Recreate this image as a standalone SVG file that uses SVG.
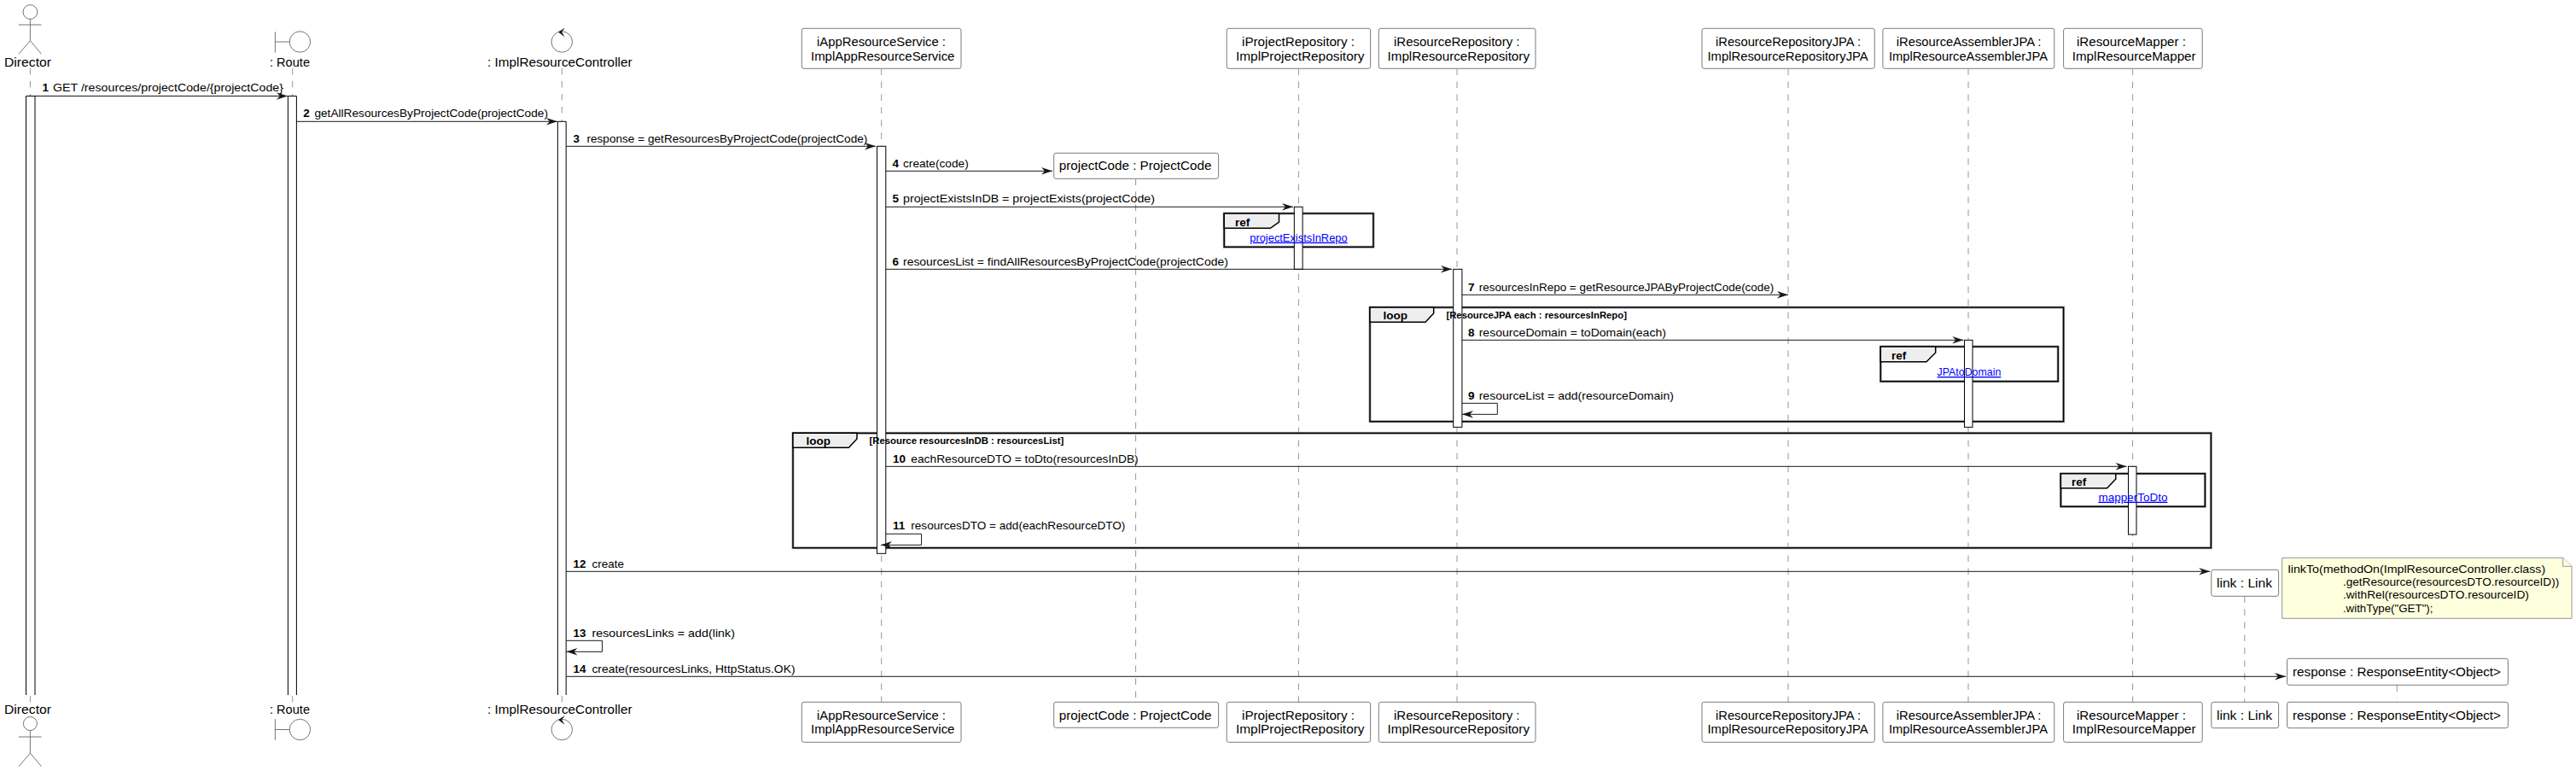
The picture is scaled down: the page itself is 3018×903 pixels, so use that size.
<svg xmlns="http://www.w3.org/2000/svg" width="3018" height="903" viewBox="0 0 3018 903">
<style>
text{font-family:"Liberation Sans",Arial,sans-serif;fill:#000}
.p{font-size:15.5px}
.m{font-size:13.5px}
.n{font-weight:bold}
.g{font-size:11.3px;font-weight:bold}
.t{font-size:13.5px;font-weight:bold}
.l{font-size:13.5px;fill:#0000ff;text-decoration:underline}
.box{fill:#fff;stroke:#7b7b7b;stroke-width:1}
.life{fill:none;stroke:#7b7b7b;stroke-width:.8;stroke-dasharray:7.5 7.5}
.act{fill:#fff;stroke:#000;stroke-width:1}
.sym{fill:none;stroke:#666;stroke-width:.9}
.msg{fill:none;stroke:#181818;stroke-width:1;marker-end:url(#a)}
.fs{fill:none;stroke:#a8a8a8;stroke-width:3}
.f{fill:none;stroke:#000;stroke-width:1.5}
.tab{fill:#eee;stroke:#000;stroke-width:1.5}
.nt{fill:#feffdd;stroke:#8a8a8a;stroke-width:.9}
</style>
<defs>
<marker id="a" markerUnits="userSpaceOnUse" markerWidth="16" markerHeight="12" refX="14" refY="6" orient="auto" overflow="visible"><path d="M14 6L1 1.8L5 6L1 10.2Z" fill="#181818"/></marker>
</defs>
<g id="lifelines">
<path class="life" d="M35.4 80V823"/>
<path class="life" d="M342.7 80V823"/>
<path class="life" d="M658.3 80V823"/>
<path class="life" d="M1032.7 80.5V822"/>
<path class="life" d="M1330.6 209.5V822"/>
<path class="life" d="M1521.4 80.5V822"/>
<path class="life" d="M1707 80.5V822"/>
<path class="life" d="M2095 80.5V822"/>
<path class="life" d="M2306 80.5V822"/>
<path class="life" d="M2498.6 80.5V822"/>
<path class="life" d="M2629.8 698.5V822"/>
<path class="life" d="M2808.3 802.5V818"/>
</g>
<g id="frames">
<g id="frame-ref-projectExists"><rect class="fs" x="1434.2" y="250" width="174.8" height="39.3"/><rect class="f" x="1434.2" y="250" width="174.8" height="39.3"/><path class="tab" d="M1434.2 250H1498.5V260L1488.3 267.3H1434.2Z"/><text class="t" x="1447" y="265">ref</text></g>
<g id="frame-loop-resourceJPA"><rect class="fs" x="1605" y="360" width="812.6" height="133.7"/><rect class="f" x="1605" y="360" width="812.6" height="133.7"/><path class="tab" d="M1605 360H1679.7V367L1670 377.3H1605Z"/><text class="t" x="1620.4" y="374">loop</text></g>
<g id="frame-ref-jpaToDomain"><rect class="fs" x="2203.3" y="406" width="207.9" height="40.7"/><rect class="f" x="2203.3" y="406" width="207.9" height="40.7"/><path class="tab" d="M2203.3 406H2267.7V413L2257 423.7H2203.3Z"/><text class="t" x="2216" y="421">ref</text></g>
<g id="frame-loop-resources"><rect class="fs" x="929" y="507.3" width="1661.4" height="134.4"/><rect class="f" x="929" y="507.3" width="1661.4" height="134.4"/><path class="tab" d="M929 507.3H1004V514L994.4 524.3H929Z"/><text class="t" x="944.4" y="521">loop</text></g>
<g id="frame-ref-mapperToDto"><rect class="fs" x="2414.4" y="554.7" width="169" height="38.6"/><rect class="f" x="2414.4" y="554.7" width="169" height="38.6"/><path class="tab" d="M2414.4 554.7H2478.8V561L2468.6 571.7H2414.4Z"/><text class="t" x="2427" y="569">ref</text></g>
</g>
<g id="activations">
<path class="act" d="M30.5 814V112.5H41V814"/>
<path class="act" d="M337.4 814V112.5H347.4V814"/>
<path class="act" d="M653.4 814V142.3H663.2V814"/>
<rect class="act" x="1027.5" y="171.3" width="10.3" height="477"/>
<rect class="act" x="1516.3" y="242.3" width="9.8" height="73"/>
<rect class="act" x="1702.7" y="315.3" width="10.2" height="185"/>
<rect class="act" x="2301.5" y="398.3" width="9.5" height="102"/>
<rect class="act" x="2493.5" y="546.3" width="9.5" height="79.7"/>
</g>
<g id="connectors">
<path class="msg" d="M41 112.5H337"/>
<path class="msg" d="M347.5 142.3H653"/>
<path class="msg" d="M663.2 171.3H1026"/>
<path class="msg" d="M1037.8 200.3H1233"/>
<path class="msg" d="M1037.8 242.3H1515"/>
<path class="msg" d="M1037.8 315.3H1701"/>
<path class="msg" d="M1712.9 345.3H2095"/>
<path class="msg" d="M1712.9 398.3H2300.3"/>
<path class="msg" d="M1712.9 472.3H1754.3V485.3H1713"/>
<path class="msg" d="M1037.8 546.3H2491.6"/>
<path class="msg" d="M1037.8 625.3H1079.6V638.3H1032"/>
<path class="msg" d="M663.2 669.3H2589.2"/>
<path class="msg" d="M663.2 750.3H705.6V763.3H663.5"/>
<path class="msg" d="M663.2 792.3H2678"/>
</g>
<g id="labels">
<text class="m" y="107"><tspan class="n" x="49.4">1 </tspan><tspan x="62" textLength="270" lengthAdjust="spacingAndGlyphs">GET /resources/projectCode/{projectCode}</tspan></text>
<text class="m" y="136.7"><tspan class="n" x="355.3">2 </tspan><tspan x="368.4" textLength="273.6" lengthAdjust="spacingAndGlyphs">getAllResourcesByProjectCode(projectCode)</tspan></text>
<text class="m" y="166.7"><tspan class="n" x="671.4">3 </tspan><tspan x="687.4" textLength="329" lengthAdjust="spacingAndGlyphs">response = getResourcesByProjectCode(projectCode)</tspan></text>
<text class="m" y="195.7"><tspan class="n" x="1045.4">4 </tspan><tspan x="1058" textLength="76.7" lengthAdjust="spacingAndGlyphs">create(code)</tspan></text>
<text class="m" y="236.7"><tspan class="n" x="1045.4">5 </tspan><tspan x="1058" textLength="295" lengthAdjust="spacingAndGlyphs">projectExistsInDB = projectExists(projectCode)</tspan></text>
<text class="m" y="310.7"><tspan class="n" x="1045.4">6 </tspan><tspan x="1058" textLength="380.8" lengthAdjust="spacingAndGlyphs">resourcesList = findAllResourcesByProjectCode(projectCode)</tspan></text>
<text class="m" y="341"><tspan class="n" x="1720">7 </tspan><tspan x="1732.7" textLength="345.6" lengthAdjust="spacingAndGlyphs">resourcesInRepo = getResourceJPAByProjectCode(code)</tspan></text>
<text class="m" y="394"><tspan class="n" x="1720">8 </tspan><tspan x="1732.7" textLength="219.3" lengthAdjust="spacingAndGlyphs">resourceDomain = toDomain(each)</tspan></text>
<text class="m" y="467.7"><tspan class="n" x="1720">9 </tspan><tspan x="1732.7" textLength="228.3" lengthAdjust="spacingAndGlyphs">resourceList = add(resourceDomain)</tspan></text>
<text class="m" y="541.7"><tspan class="n" x="1046">10 </tspan><tspan x="1067.3" textLength="266.4" lengthAdjust="spacingAndGlyphs">eachResourceDTO = toDto(resourcesInDB)</tspan></text>
<text class="m" y="620"><tspan class="n" x="1046">11 </tspan><tspan x="1067.3" textLength="251.1" lengthAdjust="spacingAndGlyphs">resourcesDTO = add(eachResourceDTO)</tspan></text>
<text class="m" y="665"><tspan class="n" x="671.4">12 </tspan><tspan x="693.4" textLength="37.6" lengthAdjust="spacingAndGlyphs">create</tspan></text>
<text class="m" y="745.7"><tspan class="n" x="671.4">13 </tspan><tspan x="693.4" textLength="167.6" lengthAdjust="spacingAndGlyphs">resourcesLinks = add(link)</tspan></text>
<text class="m" y="787.7"><tspan class="n" x="671.4">14 </tspan><tspan x="693.4" textLength="238.2" lengthAdjust="spacingAndGlyphs">create(resourcesLinks, HttpStatus.OK)</tspan></text>
<text class="g" x="1694.4" y="372.7" textLength="211.6" lengthAdjust="spacingAndGlyphs">[ResourceJPA each : resourcesInRepo]</text>
<text class="g" x="1018.4" y="520" textLength="228" lengthAdjust="spacingAndGlyphs">[Resource resourcesInDB : resourcesList]</text>
<text class="l" x="1464.3" y="282.7" textLength="114.3" lengthAdjust="spacingAndGlyphs">projectExistsInRepo</text>
<text class="l" x="2269.6" y="440" textLength="74.7" lengthAdjust="spacingAndGlyphs">JPAtoDomain</text>
<text class="l" x="2458.4" y="586.7" textLength="81" lengthAdjust="spacingAndGlyphs">mapperToDto</text>
</g>
<g id="node-director">
<g class="sym"><circle cx="35.4" cy="14" r="8.4"/><path d="M35.4 22.4V47.7M21.8 29H48.5M22 63.3L35.4 47.7L48.5 63.3"/></g>
<text class="p" x="5" y="78" textLength="55" lengthAdjust="spacingAndGlyphs">Director</text>
<text class="p" x="5" y="836" textLength="55" lengthAdjust="spacingAndGlyphs">Director</text>
<g class="sym"><circle cx="35.4" cy="847.5" r="8"/><path d="M35.4 855.5V882M21.8 863H48.5M22 897.7L35.4 882L48.5 897.7"/></g>
</g>
<g id="node-route">
<g class="sym"><circle cx="351.4" cy="49" r="12.2"/><path d="M322.4 37.3V61.7M322.4 49H339.2"/></g>
<text class="p" x="316" y="78" textLength="47" lengthAdjust="spacingAndGlyphs">: Route</text>
<text class="p" x="316" y="836" textLength="47" lengthAdjust="spacingAndGlyphs">: Route</text>
<g class="sym"><circle cx="351.4" cy="854.5" r="12.2"/><path d="M322.4 842.3V866.7M322.4 854.5H339.2"/></g>
</g>
<g id="node-controller">
<g class="sym"><circle cx="658.3" cy="49" r="12.2"/></g>
<path d="M662 32.5L654 37.5L661.6 43.3L658.2 37.5Z" fill="#181818"/>
<text class="p" x="571" y="78" textLength="169.6" lengthAdjust="spacingAndGlyphs">: ImplResourceController</text>
<text class="p" x="571" y="836" textLength="169.6" lengthAdjust="spacingAndGlyphs">: ImplResourceController</text>
<g class="sym"><circle cx="658.3" cy="854.5" r="12.2"/></g>
<path d="M662 838L654 843L661.6 848.8L658.2 843Z" fill="#181818"/>
</g>
<g id="node-appservice">
<rect class="box" x="939.3" y="33.3" width="186.7" height="47" rx="2.5"/>
<text class="p" x="957" y="54" textLength="151" lengthAdjust="spacingAndGlyphs">iAppResourceService :</text>
<text class="p" x="950" y="70.7" textLength="168.4" lengthAdjust="spacingAndGlyphs">ImplAppResourceService</text>
<rect class="box" x="939.3" y="822.3" width="186.7" height="47" rx="2.5"/>
<text class="p" x="957" y="843" textLength="151" lengthAdjust="spacingAndGlyphs">iAppResourceService :</text>
<text class="p" x="950" y="859" textLength="168.4" lengthAdjust="spacingAndGlyphs">ImplAppResourceService</text>
</g>
<g id="node-projectcode">
<rect class="box" x="1234.7" y="179.3" width="192.9" height="30" rx="2.5"/>
<text class="p" x="1240.8" y="199" textLength="178.6" lengthAdjust="spacingAndGlyphs">projectCode : ProjectCode</text>
<rect class="box" x="1234.7" y="822.3" width="192.9" height="30" rx="2.5"/>
<text class="p" x="1240.8" y="843" textLength="178.6" lengthAdjust="spacingAndGlyphs">projectCode : ProjectCode</text>
</g>
<g id="node-projectrepo">
<rect class="box" x="1437.2" y="33.3" width="168.4" height="47" rx="2.5"/>
<text class="p" x="1455" y="54" textLength="132" lengthAdjust="spacingAndGlyphs">iProjectRepository :</text>
<text class="p" x="1448" y="70.7" textLength="150.5" lengthAdjust="spacingAndGlyphs">ImplProjectRepository</text>
<rect class="box" x="1437.2" y="822.3" width="168.4" height="47" rx="2.5"/>
<text class="p" x="1455" y="843" textLength="132" lengthAdjust="spacingAndGlyphs">iProjectRepository :</text>
<text class="p" x="1448" y="859" textLength="150.5" lengthAdjust="spacingAndGlyphs">ImplProjectRepository</text>
</g>
<g id="node-resourcerepo">
<rect class="box" x="1615.3" y="33.3" width="183.7" height="47" rx="2.5"/>
<text class="p" x="1633" y="54" textLength="147.5" lengthAdjust="spacingAndGlyphs">iResourceRepository :</text>
<text class="p" x="1625.5" y="70.7" textLength="166.5" lengthAdjust="spacingAndGlyphs">ImplResourceRepository</text>
<rect class="box" x="1615.3" y="822.3" width="183.7" height="47" rx="2.5"/>
<text class="p" x="1633" y="843" textLength="147.5" lengthAdjust="spacingAndGlyphs">iResourceRepository :</text>
<text class="p" x="1625.5" y="859" textLength="166.5" lengthAdjust="spacingAndGlyphs">ImplResourceRepository</text>
</g>
<g id="node-repojpa">
<rect class="box" x="1994" y="33.3" width="202.3" height="47" rx="2.5"/>
<text class="p" x="2010" y="54" textLength="170" lengthAdjust="spacingAndGlyphs">iResourceRepositoryJPA :</text>
<text class="p" x="2000.5" y="70.7" textLength="188.2" lengthAdjust="spacingAndGlyphs">ImplResourceRepositoryJPA</text>
<rect class="box" x="1994" y="822.3" width="202.3" height="47" rx="2.5"/>
<text class="p" x="2010" y="843" textLength="170" lengthAdjust="spacingAndGlyphs">iResourceRepositoryJPA :</text>
<text class="p" x="2000.5" y="859" textLength="188.2" lengthAdjust="spacingAndGlyphs">ImplResourceRepositoryJPA</text>
</g>
<g id="node-assemblerjpa">
<rect class="box" x="2205.9" y="33.3" width="200.9" height="47" rx="2.5"/>
<text class="p" x="2221.8" y="54" textLength="169.6" lengthAdjust="spacingAndGlyphs">iResourceAssemblerJPA :</text>
<text class="p" x="2212.9" y="70.7" textLength="186.1" lengthAdjust="spacingAndGlyphs">ImplResourceAssemblerJPA</text>
<rect class="box" x="2205.9" y="822.3" width="200.9" height="47" rx="2.5"/>
<text class="p" x="2221.8" y="843" textLength="169.6" lengthAdjust="spacingAndGlyphs">iResourceAssemblerJPA :</text>
<text class="p" x="2212.9" y="859" textLength="186.1" lengthAdjust="spacingAndGlyphs">ImplResourceAssemblerJPA</text>
</g>
<g id="node-mapper">
<rect class="box" x="2417.6" y="33.3" width="162.6" height="47" rx="2.5"/>
<text class="p" x="2433" y="54" textLength="128" lengthAdjust="spacingAndGlyphs">iResourceMapper :</text>
<text class="p" x="2427.8" y="70.7" textLength="144.8" lengthAdjust="spacingAndGlyphs">ImplResourceMapper</text>
<rect class="box" x="2417.6" y="822.3" width="162.6" height="47" rx="2.5"/>
<text class="p" x="2433" y="843" textLength="128" lengthAdjust="spacingAndGlyphs">iResourceMapper :</text>
<text class="p" x="2427.8" y="859" textLength="144.8" lengthAdjust="spacingAndGlyphs">ImplResourceMapper</text>
</g>
<g id="node-link">
<rect class="box" x="2590.8" y="667.3" width="78.8" height="31" rx="2.5"/>
<text class="p" x="2597" y="688.3" textLength="65" lengthAdjust="spacingAndGlyphs">link : Link</text>
<rect class="box" x="2590.8" y="822.3" width="78.8" height="30.4" rx="2.5"/>
<text class="p" x="2597" y="843" textLength="65" lengthAdjust="spacingAndGlyphs">link : Link</text>
</g>
<g id="node-response">
<rect class="box" x="2679.5" y="771.3" width="258.9" height="31" rx="2.5"/>
<text class="p" x="2686" y="791.7" textLength="244" lengthAdjust="spacingAndGlyphs">response : ResponseEntity&lt;Object&gt;</text>
<rect class="box" x="2679.5" y="822.3" width="258.9" height="30.4" rx="2.5"/>
<text class="p" x="2686" y="843" textLength="244" lengthAdjust="spacingAndGlyphs">response : ResponseEntity&lt;Object&gt;</text>
</g>
<g id="node-note">
<path class="nt" d="M2673.6 653.3H3002.7L3013 663.3V724.3H2673.6Z"/>
<path class="nt" d="M3002.7 653.3V663.3H3013"/>
<text class="m" x="2680.6" y="671" textLength="301.6" lengthAdjust="spacingAndGlyphs">linkTo(methodOn(ImplResourceController.class)</text>
<text class="m" x="2744.9" y="686" textLength="253.4" lengthAdjust="spacingAndGlyphs">.getResource(resourcesDTO.resourceID))</text>
<text class="m" x="2744.9" y="701" textLength="218" lengthAdjust="spacingAndGlyphs">.withRel(resourcesDTO.resourceID)</text>
<text class="m" x="2744.9" y="716.7" textLength="105.6" lengthAdjust="spacingAndGlyphs">.withType("GET");</text>
</g>
</svg>
